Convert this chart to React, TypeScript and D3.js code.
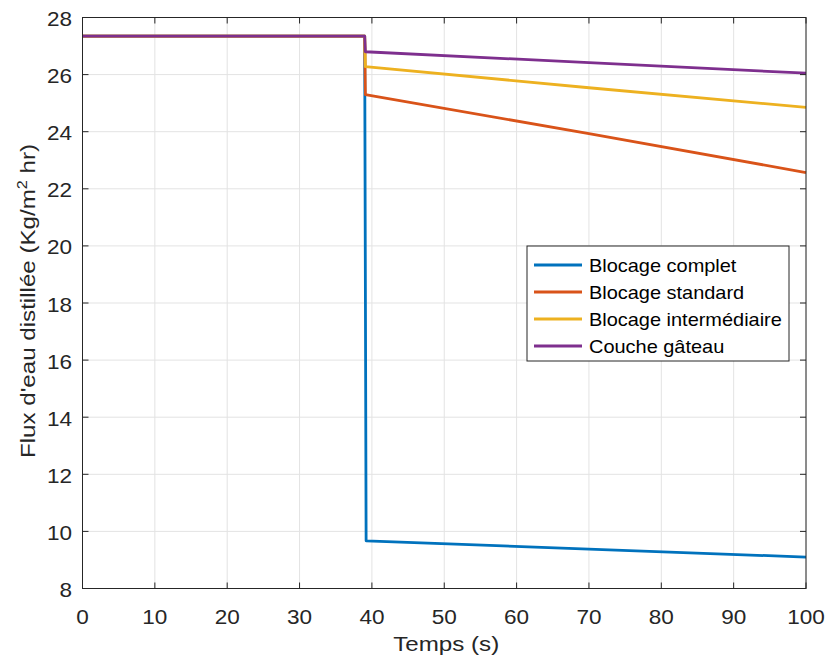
import React from "react";
import * as d3 from "d3";

const W = 825;
const H = 661;
const M = { left: 82.5, right: 806, top: 17.5, bottom: 588.5 };

const xTicks = [0, 10, 20, 30, 40, 50, 60, 70, 80, 90, 100];
const yTicks = [8, 10, 12, 14, 16, 18, 20, 22, 24, 26, 28];

const seriesNames = ["Blocage complet", "Blocage standard", "Blocage intermédiaire", "Couche gâteau"];
const seriesColors = ["#0072BD", "#D95319", "#EDB120", "#7E2F8E"];

const tComplet = [0, 39, 39.2, 100];
const vComplet = [27.35, 27.35, 9.67, 9.1];
const tStandard = [0, 39, 39.1, 70, 100];
const vStandard = [27.35, 27.35, 25.3, 23.93, 22.57];
const tInter = [0, 39, 39.1, 70, 100];
const vInter = [27.35, 27.35, 26.28, 25.54, 24.85];
const tGateau = [0, 39, 39.1, 70, 100];
const vGateau = [27.35, 27.35, 26.8, 26.42, 26.05];

const seriesT = [tComplet, tStandard, tInter, tGateau];
const seriesV = [vComplet, vStandard, vInter, vGateau];

export default function App() {
  const x = d3.scaleLinear().domain([0, 100]).range([M.left, M.right]);
  const y = d3.scaleLinear().domain([8, 28]).range([M.bottom, M.top]);
  const line = d3
    .line<[number, number]>()
    .x((d) => x(d[0]))
    .y((d) => y(d[1]));
  const axisColor = "#262626";
  const font = "'Liberation Sans', Arial, Helvetica, sans-serif";
  const tick = 6;
  const sx = 1.1;

  const legX = 527;
  const legY = 246;
  const legW = 262;
  const legH = 115;
  const rowH = 27;

  return (
    <svg
      width={W}
      height={H}
      style={{ position: "absolute", left: 0, top: 0, background: "#fff" }}
      fontFamily={font}
    >
      <rect x={0} y={0} width={W} height={H} fill="#fff" />
      {xTicks.map((t) => (
        <line key={"gx" + t} x1={x(t)} x2={x(t)} y1={M.top} y2={M.bottom} stroke="#e3e3e3" strokeWidth={1} />
      ))}
      {yTicks.map((t) => (
        <line key={"gy" + t} x1={M.left} x2={M.right} y1={y(t)} y2={y(t)} stroke="#e3e3e3" strokeWidth={1} />
      ))}
      {seriesT.map((ts, i) => (
        <path
          key={"s" + i}
          d={line(ts.map((t, j) => [t, seriesV[i][j]]) as [number, number][]) || ""}
          fill="none"
          stroke={seriesColors[i]}
          strokeWidth={2.8}
          strokeLinejoin="round"
        />
      ))}
      <rect
        x={M.left}
        y={M.top}
        width={M.right - M.left}
        height={M.bottom - M.top}
        fill="none"
        stroke={axisColor}
        strokeWidth={1}
      />
      {xTicks.map((t) => (
        <g key={"tx" + t}>
          <line x1={x(t)} x2={x(t)} y1={M.bottom} y2={M.bottom - tick} stroke={axisColor} />
          <line x1={x(t)} x2={x(t)} y1={M.top} y2={M.top + tick} stroke={axisColor} />
          <text
            transform={`translate(${x(t)}, ${M.bottom + 35}) scale(${sx},1)`}
            textAnchor="middle"
            fontSize={20.5}
            fill={axisColor}
          >
            {t}
          </text>
        </g>
      ))}
      {yTicks.map((t) => (
        <g key={"ty" + t}>
          <line x1={M.left} x2={M.left + tick} y1={y(t)} y2={y(t)} stroke={axisColor} />
          <line x1={M.right} x2={M.right - tick} y1={y(t)} y2={y(t)} stroke={axisColor} />
          <text
            transform={`translate(72, ${y(t) + 8.5}) scale(${sx},1)`}
            textAnchor="end"
            fontSize={20.5}
            fill={axisColor}
          >
            {t}
          </text>
        </g>
      ))}
      <text
        transform={`translate(${(M.left + M.right) / 2 + 2}, 651) scale(1.15,1)`}
        textAnchor="middle"
        fontSize={21}
        fill={axisColor}
      >
        Temps (s)
      </text>
      <text
        transform={`translate(35, ${(M.top + M.bottom) / 2 - 2}) rotate(-90) scale(1.15,1)`}
        textAnchor="middle"
        fontSize={21}
        fill={axisColor}
      >
        Flux d'eau distillée (Kg/m
        <tspan fontSize={14} dy={-8}>2</tspan>
        <tspan dy={8}> hr)</tspan>
      </text>
      <rect x={legX} y={legY} width={legW} height={legH} fill="#fff" stroke={axisColor} strokeWidth={1} />
      {seriesNames.map((n, i) => {
        const cy = legY + 19 + i * rowH;
        return (
          <g key={"l" + i}>
            <line x1={legX + 7} x2={legX + 55} y1={cy} y2={cy} stroke={seriesColors[i]} strokeWidth={2.8} />
            <text
              transform={`translate(${legX + 62}, ${cy + 7}) scale(1.05,1)`}
              fontSize={19}
              fill="#000"
            >
              {n}
            </text>
          </g>
        );
      })}
    </svg>
  );
}
